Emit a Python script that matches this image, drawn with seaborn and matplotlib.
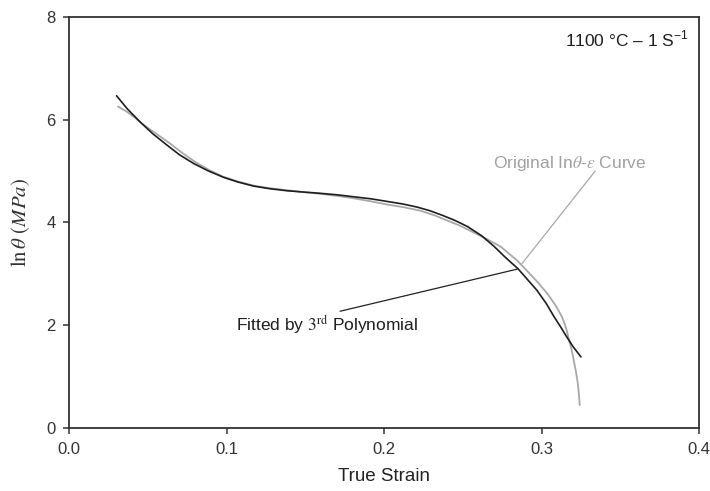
import numpy as np
import pandas as pd
import matplotlib
matplotlib.use('Agg')
import matplotlib.pyplot as plt
import seaborn as sns

# 3rd-order polynomial fit (black curve)
fit_strain = [0.030, 0.037, 0.045, 0.053, 0.062, 0.070, 0.079, 0.088, 0.098, 0.107,
              0.117, 0.127, 0.138, 0.148, 0.159, 0.170, 0.181, 0.192, 0.202, 0.212,
              0.221, 0.229, 0.237, 0.245, 0.253, 0.262, 0.270, 0.277, 0.285, 0.291,
              0.297, 0.303, 0.308, 0.312, 0.316, 0.320, 0.325]
fit_ln_theta = [6.47, 6.21, 5.96, 5.73, 5.51, 5.32, 5.15, 5.01, 4.88, 4.79,
                4.71, 4.66, 4.62, 4.595, 4.57, 4.54, 4.50, 4.46, 4.41, 4.36,
                4.30, 4.23, 4.14, 4.04, 3.92, 3.74, 3.53, 3.32, 3.10, 2.89,
                2.68, 2.42, 2.16, 1.97, 1.77, 1.58, 1.38]

# original ln(theta)-strain curve (grey)
orig_strain = [0.031, 0.036, 0.041, 0.046, 0.052, 0.058, 0.064, 0.072, 0.080, 0.089,
               0.098, 0.107, 0.117, 0.127, 0.138, 0.148, 0.159, 0.170, 0.181, 0.192,
               0.202, 0.212, 0.223, 0.232, 0.240, 0.248, 0.256, 0.265, 0.274, 0.2845,
               0.291, 0.298, 0.304, 0.309, 0.313, 0.3155, 0.3172, 0.319, 0.3204,
               0.3218, 0.3230, 0.3237, 0.3242]
orig_ln_theta = [6.26, 6.17, 6.06, 5.93, 5.80, 5.67, 5.54, 5.35, 5.18, 5.02,
                 4.89, 4.80, 4.72, 4.67, 4.63, 4.595, 4.56, 4.52, 4.47, 4.41,
                 4.35, 4.30, 4.23, 4.14, 4.04, 3.94, 3.82, 3.68, 3.53, 3.26,
                 3.05, 2.82, 2.60, 2.38, 2.16, 1.95, 1.74, 1.53, 1.32,
                 1.10, 0.87, 0.66, 0.44]

x_ticks = [0.0, 0.1, 0.2, 0.3, 0.4]
y_ticks = [0, 2, 4, 6, 8]

sns.set_theme(style='ticks')
plt.rcParams['font.family'] = ['Liberation Sans', 'DejaVu Sans']
plt.rcParams['mathtext.fontset'] = 'stix'

fig = plt.figure(figsize=(7.1, 4.91), dpi=100)
ax = fig.add_axes([0.0976, 0.1289, 0.8869, 0.8359])

df_orig = pd.DataFrame({'strain': orig_strain, 'ln_theta': orig_ln_theta})
df_fit = pd.DataFrame({'strain': fit_strain, 'ln_theta': fit_ln_theta})

sns.lineplot(data=df_orig, x='strain', y='ln_theta', ax=ax, color='#a8a8a8',
             linewidth=1.3, estimator=None, sort=False)
sns.lineplot(data=df_fit, x='strain', y='ln_theta', ax=ax, color='#1e1e1e',
             linewidth=1.2, estimator=None, sort=False)

ax.set_xlim(0, 0.4)
ax.set_ylim(0, 8)
ax.set_xticks(x_ticks)
ax.set_xticklabels([f'{v:.1f}' for v in x_ticks])
ax.set_yticks(y_ticks)
ax.tick_params(axis='both', direction='out', length=4, width=1.1,
               labelsize=12, pad=6, labelcolor='#333333', color='#333333')
for s in ax.spines.values():
    s.set_linewidth(1.3)
    s.set_color('#333333')

ax.set_xlabel('True Strain', fontsize=13.5, color='#222222', labelpad=8)
ax.set_ylabel(r'$\mathrm{ln}\,\theta\ \mathrm{(}MPa\mathrm{)}$', fontsize=15,
              color='#333333', labelpad=10)

# annotations
ax.plot([0.334, 0.2876], [5.0, 3.20], color='#a8a8a8', linewidth=0.9)
ax.plot([0.172, 0.2844], [2.27, 3.09], color='#222222', linewidth=0.9)

ax.text(0.2694, 5.06, r'Original In$\theta$-$\varepsilon$ Curve', fontsize=12.5,
        color='#a0a0a0', va='baseline', ha='left')
ax.text(0.106, 1.89, r'Fitted by $\mathrm{3^{rd}}$ Polynomial', fontsize=12.5,
        color='#1e1e1e', va='baseline', ha='left')
ax.text(0.3935, 7.43, r'1100 °C – 1 S$^{\mathregular{-1}}$', fontsize=12.5,
        color='#1e1e1e', va='baseline', ha='right')

fig.savefig('out.png', dpi=100)
